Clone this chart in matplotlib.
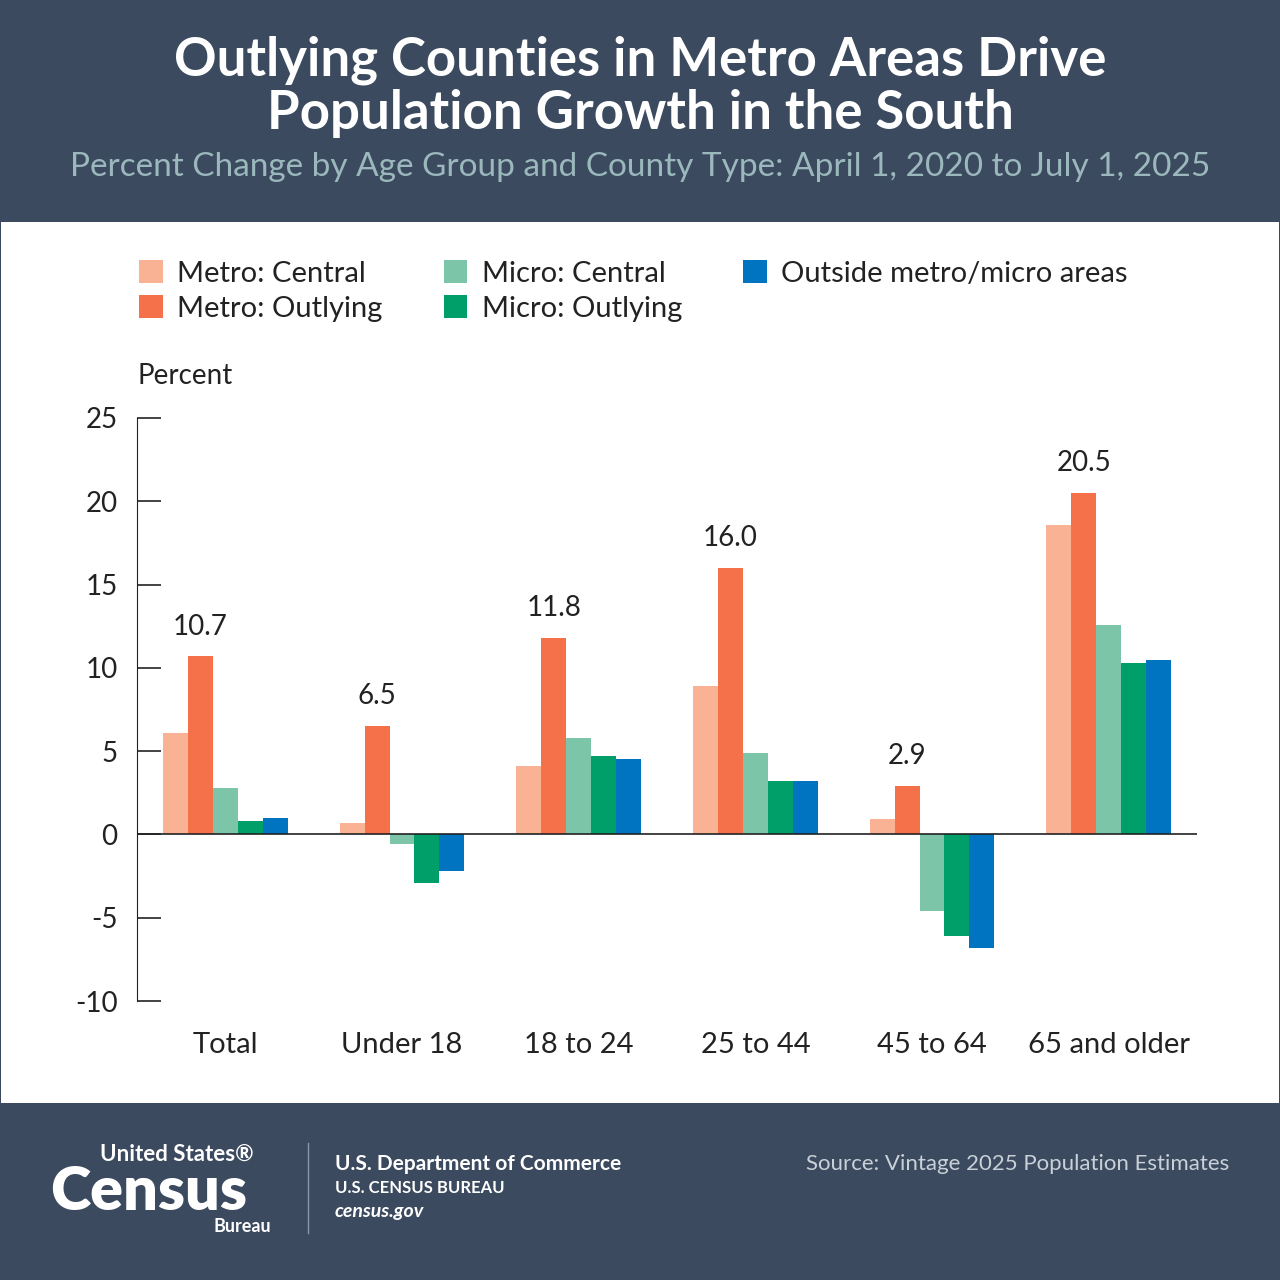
import matplotlib.pyplot as plt
import numpy as np

categories = ['Total', 'Under 18', '18 to 24', '25 to 44', '45 to 64', '65 and older']
series_names = ['Metro: Central', 'Metro: Outlying', 'Micro: Central', 'Micro: Outlying',
                'Outside metro/micro areas']
metro_central = [6.1, 0.7, 4.1, 8.9, 0.9, 18.6]
metro_outlying = [10.7, 6.5, 11.8, 16.0, 2.9, 20.5]
micro_central = [2.8, -0.6, 5.8, 4.9, -4.6, 12.6]
micro_outlying = [0.8, -2.9, 4.7, 3.2, -6.1, 10.3]
outside = [1.0, -2.2, 4.5, 3.2, -6.8, 10.5]
colors = ['#f9b294', '#f4714a', '#7dc5a8', '#009e68', '#0074c1']

DARK = '#3b4a5e'
plt.rcParams['font.family'] = ['Lato', 'DejaVu Sans']
plt.rcParams['axes.unicode_minus'] = False

fig = plt.figure(figsize=(12.8, 12.8), dpi=100)
fig.patch.set_facecolor(DARK)

# white panel as a background axes
bg = fig.add_axes([1/1280, 1 - 1103/1280, 1278/1280, 881/1280], zorder=-5)
bg.set_facecolor('white')
bg.set_xticks([]); bg.set_yticks([])
for s in bg.spines.values():
    s.set_visible(False)

fig.text(0.5, 1 - 60/1280, 'Outlying Counties in Metro Areas Drive', ha='center', va='center',
         color='white', fontsize=38, fontweight='bold')
fig.text(0.5, 1 - 113/1280, 'Population Growth in the South', ha='center', va='center',
         color='white', fontsize=38, fontweight='bold')
fig.text(0.5, 1 - 167/1280, 'Percent Change by Age Group and County Type: April 1, 2020 to July 1, 2025',
         ha='center', va='center', color='#9bb8bd', fontsize=24)

ax = fig.add_axes([137/1280, 1 - 1001/1280, (1197 - 137)/1280, (1001 - 418)/1280], zorder=2)
ax.patch.set_alpha(0)
series = [metro_central, metro_outlying, micro_central, micro_outlying, outside]
x = np.arange(len(categories))
w = 0.141
for i, (vals, c) in enumerate(zip(series, colors)):
    ax.bar(x + (i - 2) * w, vals, w, color=c, label=series_names[i], zorder=2)
for xi, v in zip(x, metro_outlying):
    ax.text(xi - w, v + 1.0, f'{v:.1f}', ha='center', va='bottom', fontsize=20, color='#222222')

ax.set_xlim(-0.5, 5.5)
ax.set_ylim(-10, 25)
ax.set_yticks(range(-10, 26, 5))
ax.set_xticks(x)
ax.set_xticklabels(categories)
ax.axhline(0, color='#222222', lw=1.2, zorder=3)
for s in ['top', 'right', 'bottom']:
    ax.spines[s].set_visible(False)
ax.spines['left'].set_color('#222222')
ax.tick_params(axis='y', direction='in', length=17, width=1.2, color='#222222',
               labelsize=20, pad=14, labelcolor='#222222')
ax.tick_params(axis='x', length=0, labelsize=21, pad=22, labelcolor='#222222')
ax.text(0, 1.05, 'Percent', transform=ax.transAxes, ha='left', va='bottom', fontsize=20,
        color='#222222')

handles, labels = ax.get_legend_handles_labels()
leg = fig.legend(handles, labels, ncol=3, loc='upper left',
                 bbox_to_anchor=(113/1280, 1 - 234/1280), frameon=False,
                 fontsize=21, handlelength=0.8, handleheight=0.8, handletextpad=0.5,
                 columnspacing=2.1, labelspacing=0.3)
for t in leg.get_texts():
    t.set_color('#222222')

# footer
fig.text(100/1280, 1 - 1154/1280, 'United States®', color='white', fontsize=16,
         fontweight='bold', va='center', ha='left')
fig.text(50/1280, 1 - 1192/1280, 'Census', color='white', fontsize=44, fontweight='heavy',
         va='center', ha='left')
fig.text(271/1280, 1 - 1226/1280, 'Bureau', color='white', fontsize=13, fontweight='bold',
         va='center', ha='right')
fig.add_artist(plt.Line2D([308/1280, 308/1280], [1 - 1143/1280, 1 - 1233/1280],
                          transform=fig.transFigure, color='#8a97a8', lw=1))
fig.text(335/1280, 1 - 1164/1280, 'U.S. Department of Commerce', color='white', fontsize=15,
         fontweight='bold', va='center')
fig.text(335/1280, 1 - 1188/1280, 'U.S. CENSUS BUREAU', color='white', fontsize=12,
         fontweight='bold', va='center')
fig.text(335/1280, 1 - 1211/1280, 'census.gov', color='white', fontsize=14,
         fontweight='bold', style='italic', va='center')
fig.text(1229/1280, 1 - 1164/1280, 'Source: Vintage 2025 Population Estimates', color='#c9d0d8',
         fontsize=16, va='center', ha='right')

fig.savefig('out.png', dpi=100, facecolor=fig.get_facecolor())
